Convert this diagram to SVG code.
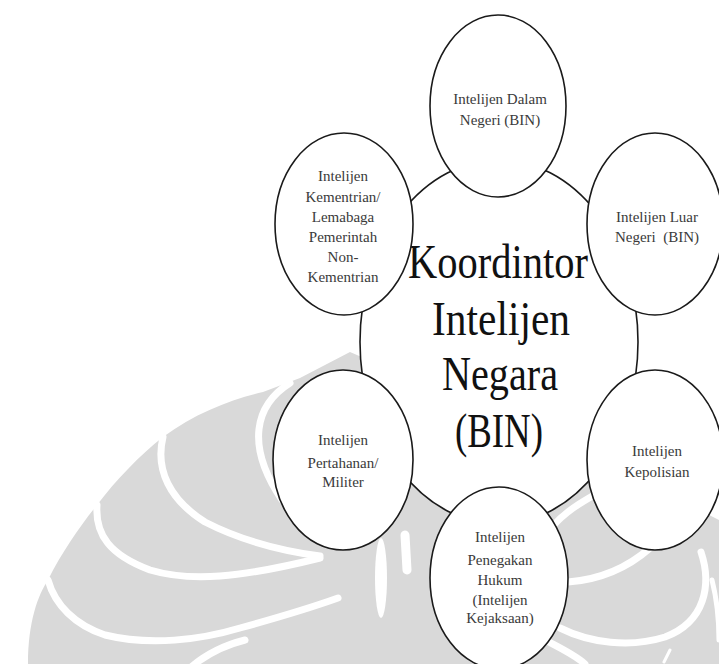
<svg xmlns="http://www.w3.org/2000/svg" width="719" height="664" viewBox="0 0 719 664">
<style>
.wm{fill:#d9d9d9}
.gap{fill:none;stroke:#fff;stroke-width:7;stroke-linecap:round}
.node ellipse{fill:#fff;stroke:#1a1a1a;stroke-width:1.6}
.lbl{font-family:"Liberation Serif",serif;font-size:15px;fill:#3a3a3a;text-anchor:middle}
.big{font-family:"Liberation Serif",serif;font-size:49px;fill:#111;text-anchor:middle}
</style>
<rect width="719" height="664" fill="#fff"/>
<g id="watermark">
<path class="wm" d="M28,664 C28,622 38,595 48,580 C62,552 80,526 97,505 C116,480 140,455 163,437 C195,413 232,399 263,392 L300,378 L350,352 L600,460 L719,520 L719,664 Z"/>
<path class="gap" d="M290,383 C255,405 245,445 282,500"/>
<path class="gap" d="M163,437 C155,470 170,500 205,522 C240,540 275,550 320,556"/>
<path class="gap" d="M97,505 C95,535 110,555 150,570 C190,582 240,578 320,558"/>
<path class="gap" d="M48,580 C55,605 75,625 105,635 C150,646 200,640 240,628 C280,617 310,608 338,598"/>
<path class="gap" d="M190,668 C205,655 225,645 245,640"/>
<ellipse cx="381" cy="578" rx="6" ry="40" fill="#fff"/>
<path class="gap" d="M405,535 L407,570" style="stroke-width:9"/>
<path class="gap" d="M552,527 C565,512 580,503 596,494"/>
<path class="gap" d="M568,582 C595,580 625,570 650,548"/>
<path class="gap" d="M701,552 C712,585 705,622 665,637 C630,648 590,643 560,628"/>
<path class="gap" d="M545,640 C560,648 575,655 585,664"/>
<path class="gap" d="M712,580 C717,600 719,620 719,640" style="stroke-width:5"/>
<path class="gap" d="M664,662 L670,650" style="stroke-width:3"/>
</g>
<g id="node-center" class="node">
<ellipse cx="499" cy="342" rx="139" ry="182"/>
<text class="big" x="498" y="278" textLength="180" lengthAdjust="spacingAndGlyphs">Koordintor</text>
<text class="big" x="501" y="335" textLength="138" lengthAdjust="spacingAndGlyphs">Intelijen</text>
<text class="big" x="500" y="390" textLength="116" lengthAdjust="spacingAndGlyphs">Negara</text>
<text class="big" x="499" y="447" textLength="88" lengthAdjust="spacingAndGlyphs">(BIN)</text>
</g>
<g id="node-dalam-negeri" class="node">
<ellipse cx="498" cy="106" rx="68" ry="91"/>
<text class="lbl" x="500" y="104">Intelijen Dalam</text>
<text class="lbl" x="500" y="125">Negeri (BIN)</text>
</g>
<g id="node-luar-negeri" class="node">
<ellipse cx="655" cy="224" rx="68" ry="91"/>
<text class="lbl" x="657" y="222">Intelijen Luar</text>
<text class="lbl" x="657" y="242" style="white-space:pre">Negeri  (BIN)</text>
</g>
<g id="node-kementrian" class="node">
<ellipse cx="344" cy="224" rx="69" ry="91"/>
<text class="lbl" x="343" y="181">Intelijen</text>
<text class="lbl" x="343" y="202">Kementrian/</text>
<text class="lbl" x="343" y="222">Lemabaga</text>
<text class="lbl" x="343" y="242">Pemerintah</text>
<text class="lbl" x="343" y="262">Non-</text>
<text class="lbl" x="343" y="282">Kementrian</text>
</g>
<g id="node-pertahanan" class="node">
<ellipse cx="343" cy="460" rx="70" ry="90"/>
<text class="lbl" x="343" y="445">Intelijen</text>
<text class="lbl" x="343" y="468">Pertahanan/</text>
<text class="lbl" x="343" y="487">Militer</text>
</g>
<g id="node-kepolisian" class="node">
<ellipse cx="655" cy="460" rx="68" ry="90"/>
<text class="lbl" x="657" y="456">Intelijen</text>
<text class="lbl" x="657" y="477">Kepolisian</text>
</g>
<g id="node-kejaksaan" class="node">
<ellipse cx="499" cy="578" rx="69" ry="91"/>
<text class="lbl" x="500" y="542">Intelijen</text>
<text class="lbl" x="500" y="565">Penegakan</text>
<text class="lbl" x="500" y="585">Hukum</text>
<text class="lbl" x="500" y="605">(Intelijen</text>
<text class="lbl" x="500" y="623">Kejaksaan)</text>
</g>
<g id="connectors"></g>
</svg>
